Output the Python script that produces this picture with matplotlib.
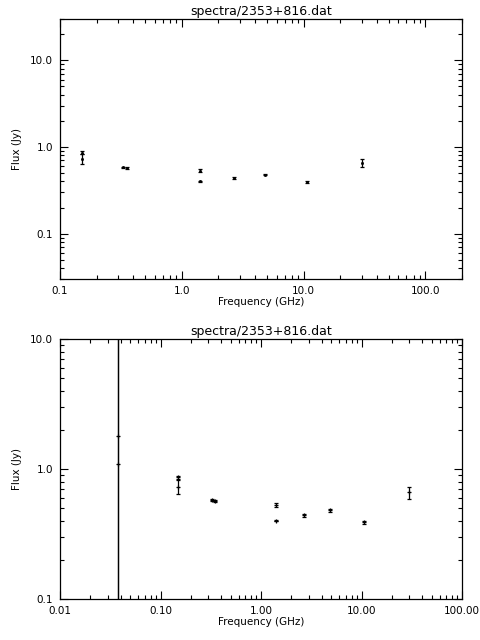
import numpy as np
import matplotlib

matplotlib.use("Agg")
from matplotlib import pyplot as plt
from matplotlib.ticker import FixedLocator, LogLocator, NullFormatter

title = "spectra/2353+816.dat"

freq_ghz = [0.038, 0.038, 0.151, 0.151, 0.327, 0.352, 1.4, 1.4, 2.7, 4.85, 10.7, 30.0]
flux_jy = [1.8, 1.1, 0.86, 0.73, 0.58, 0.57, 0.53, 0.40, 0.44, 0.48, 0.39, 0.66]
flux_err = [20.0, 20.0, 0.03, 0.09, 0.01, 0.01, 0.02, 0.005, 0.01, 0.01, 0.01, 0.07]

top_xticks = [0.1, 1.0, 10.0, 100.0]
top_xlabels = ["0.1", "1.0", "10.0", "100.0"]
top_yticks = [0.1, 1.0, 10.0]
top_ylabels = ["0.1", "1.0", "10.0"]

bot_xticks = [0.01, 0.1, 1.0, 10.0, 100.0]
bot_xlabels = ["0.01", "0.10", "1.00", "10.00", "100.00"]
bot_yticks = [0.1, 1.0, 10.0]
bot_ylabels = ["0.1", "1.0", "10.0"]

plt.rcParams["font.family"] = ["DejaVu Sans"]
plt.rcParams["font.size"] = 7.5


def style_axes(ax, xticks, xlabels, yticks, ylabels, xlim, ylim):
    ax.set_xscale("log")
    ax.set_yscale("log")
    ax.set_xlim(*xlim)
    ax.set_ylim(*ylim)
    ax.xaxis.set_major_locator(FixedLocator(xticks))
    ax.set_xticklabels(xlabels)
    ax.yaxis.set_major_locator(FixedLocator(yticks))
    ax.set_yticklabels(ylabels)
    ax.xaxis.set_minor_locator(LogLocator(base=10, subs=np.arange(2, 10), numticks=20))
    ax.yaxis.set_minor_locator(LogLocator(base=10, subs=np.arange(2, 10), numticks=20))
    ax.xaxis.set_minor_formatter(NullFormatter())
    ax.yaxis.set_minor_formatter(NullFormatter())
    ax.tick_params(which="both", direction="in", top=True, right=True, width=0.8, pad=5)
    ax.tick_params(which="major", length=5.5)
    ax.tick_params(which="minor", length=3)
    for spine in ax.spines.values():
        spine.set_linewidth(0.9)
    ax.set_title(title, fontsize=9, pad=3)
    ax.set_xlabel("Frequency (GHz)", labelpad=1)
    ax.set_ylabel("Flux (Jy)", labelpad=6)


flux = np.array(flux_jy)
err = np.array(flux_err)
err_lo = np.minimum(err, flux * 0.999)
yerr = [err_lo, err]

fig = plt.figure(figsize=(4.8, 6.4), dpi=100)
ax_top = fig.add_axes([0.125, 0.5641, 0.8375, 0.4063])
ax_bot = fig.add_axes([0.125, 0.0641, 0.8375, 0.4063])

ax_top.errorbar(freq_ghz, flux_jy, yerr=yerr, fmt="s", ms=1.0, color="black",
                ecolor="black", elinewidth=0.9, capsize=1.2, capthick=0.9)
style_axes(ax_top, top_xticks, top_xlabels, top_yticks, top_ylabels, (0.1, 200.0), (0.03, 30.0))

ax_bot.errorbar(freq_ghz, flux_jy, yerr=yerr, fmt="+", ms=2.5, mew=0.9, color="black",
                ecolor="black", elinewidth=0.9, capsize=1.2, capthick=0.9)
style_axes(ax_bot, bot_xticks, bot_xlabels, bot_yticks, bot_ylabels, (0.01, 100.0), (0.1, 10.0))

fig.savefig("out.png", dpi=100, facecolor="white")
plt.close(fig)
